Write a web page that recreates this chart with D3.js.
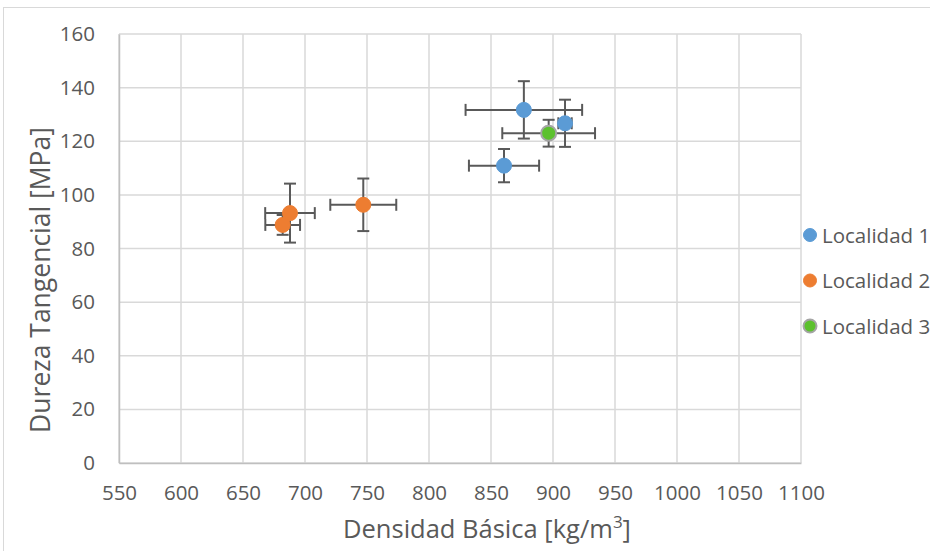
<!DOCTYPE html>
<html><head><meta charset="utf-8">
<script src="https://cdn.jsdelivr.net/npm/d3@7"></script>
<style>body{margin:0;background:#fff;}svg{display:block;font-family:"Open Sans",sans-serif;}</style>
</head><body>
<svg id="c" width="930" height="551"></svg>
<script>
const seriesNames = ["Localidad 1","Localidad 2","Localidad 3"];
const seriesColors = ["#5b9bd5","#ed7d31","#5cc12e"];
// per series: x (density), y (hardness), x error, y error
const loc1X = [876.5, 909.7, 860.5];
const loc1Y = [131.7, 126.7, 110.9];
const loc1Ex = [47, 5.4, 28.3];
const loc1Ey = [10.7, 8.8, 6.2];
const loc2X = [747, 687.9, 682];
const loc2Y = [96.3, 93.2, 88.8];
const loc2Ex = [26.6, 20, 14];
const loc2Ey = [9.8, 11, 3.7];
const loc3X = [896.5];
const loc3Y = [123.0];
const loc3Ex = [37.4];
const loc3Ey = [5];
const xTicks = [550,600,650,700,750,800,850,900,950,1000,1050,1100];
const yTicks = [0,20,40,60,80,100,120,140,160];

const series = [
  {name: seriesNames[0], color: seriesColors[0], x: loc1X, y: loc1Y, ex: loc1Ex, ey: loc1Ey},
  {name: seriesNames[1], color: seriesColors[1], x: loc2X, y: loc2Y, ex: loc2Ex, ey: loc2Ey},
  {name: seriesNames[2], color: seriesColors[2], x: loc3X, y: loc3Y, ex: loc3Ex, ey: loc3Ey, stroke: "#a5a5a5"}
];

const svg = d3.select("#c");
svg.append("rect").attr("x",3.5).attr("y",7.5).attr("width",940).attr("height",560)
  .attr("fill","#fff").attr("stroke","#d9d9d9").attr("stroke-width",1);

const x = d3.scaleLinear().domain([550,1100]).range([119,801]);
const y = d3.scaleLinear().domain([0,160]).range([463,34]);
const textCol = "#595959";
const font = "'Open Sans',sans-serif";

const g = svg.append("g");
g.selectAll(".vg").data(xTicks).join("line")
  .attr("x1",d=>x(d)).attr("x2",d=>x(d)).attr("y1",y(0)).attr("y2",y(160))
  .attr("stroke","#d9d9d9").attr("stroke-width",1.5);
g.selectAll(".hg").data(yTicks).join("line")
  .attr("x1",x(550)).attr("x2",x(1100)).attr("y1",d=>y(d)).attr("y2",d=>y(d))
  .attr("stroke","#d9d9d9").attr("stroke-width",1.5);

const xAxis = d3.axisBottom(x).tickValues(xTicks).tickSize(0).tickPadding(22).tickFormat(d3.format("d"));
const yAxis = d3.axisLeft(y).tickValues(yTicks).tickSize(0).tickPadding(24).tickFormat(d3.format("d"));
const gx = svg.append("g").attr("transform",`translate(0,${y(0)})`).call(xAxis);
const gy = svg.append("g").attr("transform",`translate(${x(550)},0)`).call(yAxis);
[gx,gy].forEach(a=>{
  a.select(".domain").attr("stroke","#bfbfbf").attr("stroke-width",1.5);
  a.selectAll("text").attr("fill",textCol).style("font-size","20.5px").style("font-family",font);
});

svg.append("text").attr("x",487).attr("y",538).attr("text-anchor","middle")
  .attr("fill",textCol).style("font-size","25.5px")
  .html('Densidad Básica [kg/m<tspan dy="-10" style="font-size:17px">3</tspan><tspan dy="10">]</tspan>');
svg.append("text").attr("transform","translate(50,280) rotate(-90)").attr("text-anchor","middle")
  .attr("fill",textCol).style("font-size","26.5px").text("Dureza Tangencial [MPa]");

const ebCol = "#595959", cap = 6;
series.forEach(s=>{
  const pts = s.x.map((v,i)=>({x:v,y:s.y[i],ex:s.ex[i],ey:s.ey[i]}));
  const eg = svg.append("g").attr("stroke",ebCol).attr("stroke-width",2).attr("fill","none");
  pts.forEach(p=>{
    eg.append("line").attr("x1",x(p.x-p.ex)).attr("x2",x(p.x+p.ex)).attr("y1",y(p.y)).attr("y2",y(p.y));
    eg.append("line").attr("x1",x(p.x-p.ex)).attr("x2",x(p.x-p.ex)).attr("y1",y(p.y)-cap).attr("y2",y(p.y)+cap);
    eg.append("line").attr("x1",x(p.x+p.ex)).attr("x2",x(p.x+p.ex)).attr("y1",y(p.y)-cap).attr("y2",y(p.y)+cap);
    eg.append("line").attr("x1",x(p.x)).attr("x2",x(p.x)).attr("y1",y(p.y-p.ey)).attr("y2",y(p.y+p.ey));
    eg.append("line").attr("x1",x(p.x)-cap).attr("x2",x(p.x)+cap).attr("y1",y(p.y-p.ey)).attr("y2",y(p.y-p.ey));
    eg.append("line").attr("x1",x(p.x)-cap).attr("x2",x(p.x)+cap).attr("y1",y(p.y+p.ey)).attr("y2",y(p.y+p.ey));
  });
  svg.append("g").selectAll("circle").data(pts).join("circle")
    .attr("cx",d=>x(d.x)).attr("cy",d=>y(d.y)).attr("r",7.5)
    .attr("fill",s.color).attr("stroke",s.stroke||s.color).attr("stroke-width",s.stroke?2:1);
});

const lg = svg.append("g");
series.forEach((s,i)=>{
  const yy = 235 + i*45.5;
  lg.append("circle").attr("cx",810).attr("cy",yy).attr("r",6.5)
    .attr("fill",s.color).attr("stroke",s.stroke||s.color).attr("stroke-width",s.stroke?2:1);
  lg.append("text").attr("x",822).attr("y",yy+7.5).attr("fill",textCol).style("font-size","20.5px").text(s.name);
});
</script>
</body></html>
